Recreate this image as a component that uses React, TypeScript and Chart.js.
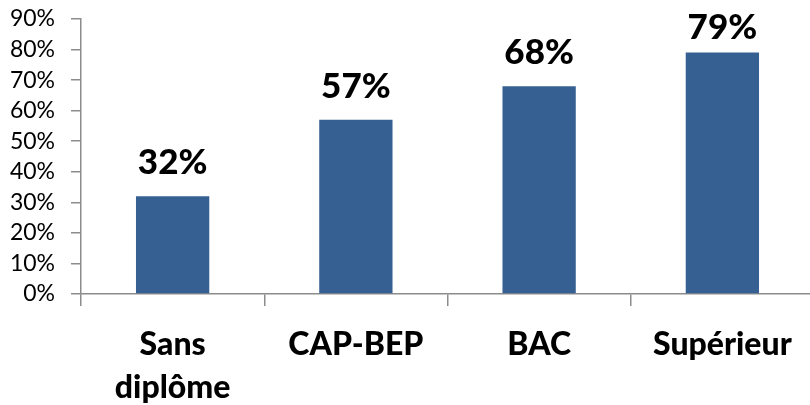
import React, { useEffect, useRef } from "react";
import { Chart, registerables } from "chart.js";

Chart.register(...registerables);

const categories: (string | string[])[] = [["Sans", "diplôme"], "CAP-BEP", "BAC", "Supérieur"];
const values = [32, 57, 68, 79];
const yMax = 90;
const yStep = 10;

const BAR_COLOR = "#376092";
const AXIS_COLOR = "#8c8c8c";

const dataLabelPlugin = {
  id: "dataLabels",
  afterDatasetsDraw(chart: any) {
    const { ctx, chartArea } = chart;
    const meta = chart.getDatasetMeta(0);
    ctx.save();
    ctx.font = "900 35px Lato";
    ctx.fillStyle = "#000";
    ctx.textAlign = "center";
    ctx.textBaseline = "alphabetic";
    meta.data.forEach((bar: any, i: number) => {
      const y = Math.max(bar.y - 22, chartArea.top + 20);
      ctx.fillText(values[i] + "%", bar.x, y);
    });
    ctx.restore();
  },
};

export default function App() {
  const ref = useRef<HTMLCanvasElement>(null);
  useEffect(() => {
    if (!ref.current) return;
    const chart = new Chart(ref.current, {
      type: "bar",
      data: {
        labels: categories,
        datasets: [
          {
            data: values,
            backgroundColor: BAR_COLOR,
            borderWidth: 0,
            categoryPercentage: 1,
            barPercentage: 0.4,
          },
        ],
      },
      options: {
        animation: false,
        responsive: false,
        devicePixelRatio: 1,
        layout: { padding: { top: 19, left: 0, right: 0, bottom: 0 } },
        plugins: { legend: { display: false }, tooltip: { enabled: false } },
        scales: {
          x: {
            grid: {
              display: true,
              drawOnChartArea: false,
              drawTicks: true,
              tickLength: 12,
              color: AXIS_COLOR,
              lineWidth: 1.5,
              offset: true,
            },
            border: { display: true, color: AXIS_COLOR, width: 1.5 },
            ticks: {
              color: "#000",
              font: { family: "Lato", size: 32, weight: "900", lineHeight: 1.35 },
              padding: 17,
              maxRotation: 0,
              autoSkip: false,
            },
            afterFit(scale: any) {
              scale.height = 111;
              scale.paddingLeft = 0;
              scale.paddingRight = 0;
            },
          },
          y: {
            min: 0,
            max: yMax,
            grid: {
              display: true,
              drawOnChartArea: false,
              drawTicks: true,
              tickLength: 10,
              color: AXIS_COLOR,
              lineWidth: 1.5,
            },
            border: { display: true, color: AXIS_COLOR, width: 1.5 },
            ticks: {
              stepSize: yStep,
              autoSkip: false,
              color: "#000",
              font: { family: "Lato", size: 23 },
              padding: 16,
              callback: (v: any) => v + "%",
            },
            afterFit(scale: any) {
              scale.width = 81;
              scale.paddingTop = 0;
              scale.paddingBottom = 0;
            },
          },
        },
      },
      plugins: [dataLabelPlugin],
    });
    return () => chart.destroy();
  }, []);
  return (
    <div
      style={{
        position: "fixed",
        left: 0,
        top: 0,
        width: 810,
        height: 405,
        overflow: "hidden",
        background: "#fff",
      }}
    >
      <canvas ref={ref} width={814} height={405} style={{ display: "block" }} />
    </div>
  );
}
